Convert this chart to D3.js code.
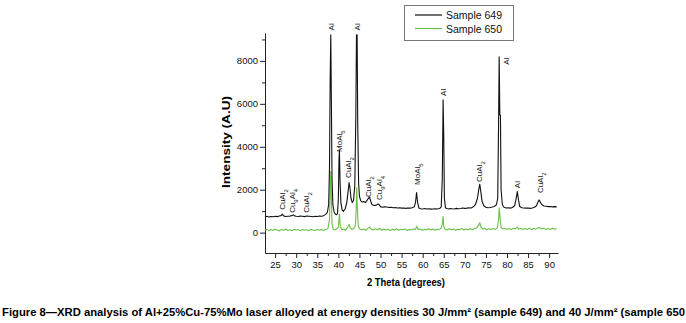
<!DOCTYPE html>
<html>
<head>
<meta charset="utf-8">
<script src="https://cdn.jsdelivr.net/npm/d3@7"></script>
<style>
    body { margin: 0; background: #fff; }
    svg { display: block; font-family: "Liberation Sans", Arial, Helvetica, sans-serif; }
</style>
</head>
<body>
<div id="chart"></div>
<script>
// XRD pattern, Sample 649 (black) and Sample 650 (green), [2theta, intensity]
const sample649 = [
    [22.6,740],[23,760],[23.5,730],[24,750],[24.5,740],[25,760],[25.5,745],[26,770],[26.4,790],[26.7,860],
    [27,780],[27.5,750],[28,760],[28.5,770],[29,790],[29.3,830],[29.6,780],[30,760],[30.5,750],[31,770],
    [31.5,760],[32,745],[32.5,770],[33,760],[33.5,750],[34,740],[34.5,760],[35,750],[35.5,770],[36,760],
    [36.5,790],[37,850],[37.4,950],[37.7,1300],[37.9,3000],[38.05,7000],[38.2,9217],[38.35,6000],[38.5,2500],[38.7,1300],
    [39,950],[39.3,860],[39.6,830],[39.8,900],[40,1600],[40.15,3400],[40.25,3850],[40.4,2400],[40.6,1400],[40.9,1050],
    [41.2,990],[41.6,1100],[42,1400],[42.3,1900],[42.55,2330],[42.75,2100],[43,1600],[43.3,1400],[43.6,1500],[43.9,2200],
    [44.15,5500],[44.3,9217],[44.45,9217],[44.6,5000],[44.8,2300],[45,1700],[45.3,1480],[45.7,1420],[46,1450],[46.4,1400],
    [46.8,1500],[47.2,1620],[47.4,1660],[47.7,1450],[48,1300],[48.5,1260],[49,1280],[49.4,1330],[49.7,1300],[50,1210],
    [50.5,1180],[51,1200],[51.5,1190],[52,1170],[52.5,1180],[53,1160],[53.5,1170],[54,1150],[54.5,1160],[55,1140],
    [55.5,1150],[56,1130],[56.5,1150],[57,1140],[57.5,1160],[58,1200],[58.3,1400],[58.55,1865],[58.8,1400],[59.1,1150],
    [59.5,1110],[60,1100],[60.5,1120],[61,1100],[61.5,1110],[62,1095],[62.5,1100],[63,1110],[63.5,1100],[64,1120],
    [64.4,1200],[64.65,2500],[64.85,6190],[65,4500],[65.15,1600],[65.4,1150],[65.8,1120],[66.2,1100],[66.6,1120],[67,1110],
    [67.5,1100],[68,1130],[68.5,1110],[69,1120],[69.5,1150],[70,1130],[70.5,1140],[71,1160],[71.5,1150],[72,1200],
    [72.5,1300],[73,1600],[73.3,2000],[73.55,2255],[73.8,1900],[74.1,1450],[74.5,1250],[75,1180],[75.5,1160],[76,1170],
    [76.5,1190],[77,1220],[77.5,1300],[77.8,1600],[78,5000],[78.15,8190],[78.3,5480],[78.45,5480],[78.6,2000],[78.9,1300],
    [79.3,1180],[79.8,1150],[80.3,1160],[80.8,1140],[81.3,1170],[81.8,1250],[82.1,1500],[82.45,1910],[82.75,1500],[83,1220],
    [83.5,1160],[84,1150],[84.5,1140],[85,1150],[85.5,1130],[86,1150],[86.5,1180],[87,1250],[87.3,1400],[87.6,1525],
    [87.9,1420],[88.3,1300],[88.8,1240],[89.3,1230],[89.8,1210],[90.3,1220],[90.8,1200],[91.3,1210],[91.8,1200]
];

const sample650 = [
    [22.6,110],[23,150],[23.5,90],[24,140],[24.5,100],[25,160],[25.5,120],[26,80],[26.5,150],[27,110],
    [27.5,170],[28,100],[28.5,130],[29,90],[29.5,160],[30,120],[30.5,140],[31,80],[31.5,150],[32,110],
    [32.5,130],[33,90],[33.5,160],[34,120],[34.5,100],[35,150],[35.5,110],[36,140],[36.5,100],[37,160],
    [37.5,180],[37.9,600],[38.05,1800],[38.2,2840],[38.35,1500],[38.5,400],[38.8,150],[39.2,120],[39.6,170],[40,250],
    [40.25,860],[40.45,300],[40.8,130],[41.2,170],[41.6,110],[42,180],[42.3,280],[42.55,380],[42.8,220],[43.2,150],
    [43.6,180],[44,300],[44.2,900],[44.35,2100],[44.5,1200],[44.7,350],[45,180],[45.5,120],[46,170],[46.5,110],
    [47,200],[47.4,260],[47.8,150],[48.3,120],[48.8,180],[49.3,130],[49.8,200],[50.3,110],[50.8,170],[51.3,120],
    [51.8,160],[52.3,100],[52.8,150],[53.3,120],[53.8,180],[54.3,110],[54.8,160],[55.3,130],[55.8,170],[56.3,100],
    [56.8,150],[57.3,120],[57.8,170],[58.3,150],[58.6,300],[58.9,140],[59.4,170],[59.9,110],[60.4,160],[60.9,130],
    [61.4,180],[61.9,120],[62.4,170],[62.9,110],[63.4,160],[63.9,140],[64.4,200],[64.65,400],[64.85,750],[65,300],
    [65.3,160],[65.8,120],[66.3,180],[66.8,130],[67.3,170],[67.8,110],[68.3,160],[68.8,140],[69.3,190],[69.8,120],
    [70.3,170],[70.8,130],[71.3,180],[71.8,140],[72.3,190],[72.8,220],[73.3,350],[73.55,470],[73.8,280],[74.2,160],
    [74.7,200],[75.2,130],[75.7,180],[76.2,140],[76.7,190],[77.2,150],[77.7,220],[78,600],[78.15,1140],[78.35,700],
    [78.6,250],[79,170],[79.5,200],[80,140],[80.5,190],[81,150],[81.5,200],[82,170],[82.45,260],[82.8,160],
    [83.3,200],[83.8,140],[84.3,190],[84.8,150],[85.3,200],[85.8,140],[86.3,190],[86.8,160],[87.3,220],[87.8,230],
    [88.3,170],[88.8,200],[89.3,140],[89.8,190],[90.3,150],[90.8,200],[91.3,160],[91.8,190]
];

// phase labels: [text, 2theta, intensity at label foot]; "_n" means subscript
const peakLabels = [
    ["CuAl_2", 26.6, 1060], ["Cu_9Al_4", 29.1, 920], ["CuAl_2", 32.3, 920],
    ["Al", 38.2, 9420], ["MoAl_5", 40.3, 3760], ["CuAl_2", 42.35, 2550],
    ["Al", 44.4, 9420], ["CuAl_2", 47.1, 1660], ["Cu_9Al_4", 49.7, 1520],
    ["MoAl_5", 58.6, 2220], ["Al", 64.9, 6370], ["CuAl_2", 73.4, 2360],
    ["Al", 79.9, 7820], ["Al", 82.5, 2070], ["CuAl_2", 87.9, 1840]
];

const seriesNames = ["Sample 649", "Sample 650"];
const seriesColors = ["#111111", "#6cbf4a"];
const xTicks = [25, 30, 35, 40, 45, 50, 55, 60, 65, 70, 75, 80, 85, 90];
const yTicks = [0, 2000, 4000, 6000, 8000];

const caption = "Figure 8\u2014XRD analysis of Al+25%Cu-75%Mo laser alloyed at energy densities 30 J/mm\u00B2 (sample 649) and 40 J/mm\u00B2 (sample 650";

class XrdVis {
    constructor(parentElement) {
        this.parentElement = parentElement;
        this.initVis();
    }

    initVis() {
        let vis = this;

        vis.width = 686;
        vis.height = 323;

        vis.svg = d3.select("#" + vis.parentElement).append("svg")
            .attr("width", vis.width)
            .attr("height", vis.height);

        // plot area in page pixels
        vis.x = d3.scaleLinear().domain([22.6, 92.1]).range([265, 558]);
        vis.y = d3.scaleLinear().domain([-950, 9300]).range([253, 33]);

        vis.drawAxes();
        vis.drawLines();
        vis.drawLabels();
        vis.drawLegend();
    }

    drawAxes() {
        let vis = this;

        // x axis, major + minor ticks
        let xMinor = d3.range(22.5, 92.1, 2.5).filter(d => d >= 22.6 && d % 5 !== 0);
        vis.svg.append("g")
            .attr("transform", "translate(0,253)")
            .call(d3.axisBottom(vis.x).tickValues(xMinor).tickSize(3).tickFormat(""))
            .call(g => g.select(".domain").remove());

        let xAxis = vis.svg.append("g")
            .attr("transform", "translate(0,253)")
            .call(d3.axisBottom(vis.x).tickValues(xTicks).tickSize(5).tickSizeOuter(0).tickPadding(3));
        xAxis.selectAll("text").style("font-size", "9.5px").attr("fill", "#111");

        // y axis
        let yMinor = [1000, 3000, 5000, 7000, 9000];
        vis.svg.append("g")
            .attr("transform", "translate(265,0)")
            .call(d3.axisLeft(vis.y).tickValues(yMinor).tickSize(3).tickFormat(""))
            .call(g => g.select(".domain").remove());

        let yAxis = vis.svg.append("g")
            .attr("transform", "translate(265,0)")
            .call(d3.axisLeft(vis.y).tickValues(yTicks).tickSize(5).tickSizeOuter(0).tickPadding(2).tickFormat(d3.format("d")));
        yAxis.selectAll("text").style("font-size", "9.5px").attr("fill", "#111");

        vis.svg.selectAll(".domain, .tick line").attr("stroke", "#222");

        // axis titles
        vis.svg.append("text")
            .attr("x", 406)
            .attr("y", 286)
            .attr("text-anchor", "middle")
            .attr("textLength", 78)
            .attr("lengthAdjust", "spacingAndGlyphs")
            .style("font-size", "11px")
            .style("font-weight", "bold")
            .text("2 Theta (degrees)");

        vis.svg.append("text")
            .attr("transform", "translate(230,142) rotate(-90)")
            .attr("text-anchor", "middle")
            .attr("textLength", 92)
            .attr("lengthAdjust", "spacingAndGlyphs")
            .style("font-size", "11.5px")
            .style("font-weight", "bold")
            .text("Intensity (A.U)");

        vis.svg.append("text")
            .attr("x", 2)
            .attr("y", 316)
            .attr("textLength", 683)
            .attr("lengthAdjust", "spacingAndGlyphs")
            .style("font-size", "10.5px")
            .style("font-weight", "bold")
            .text(caption);
    }

    drawLines() {
        let vis = this;

        let line = d3.line()
            .x(d => vis.x(d[0]))
            .y(d => vis.y(d[1]));

        // green drawn first, black on top
        [sample650, sample649].forEach((series, i) => {
            vis.svg.append("path")
                .datum(series)
                .attr("fill", "none")
                .attr("stroke", seriesColors[1 - i])
                .attr("stroke-width", 1.1)
                .attr("stroke-linejoin", "round")
                .attr("d", line);
        });
    }

    drawLabels() {
        let vis = this;

        let labels = vis.svg.selectAll(".peak-label")
            .data(peakLabels)
            .enter().append("text")
            .attr("class", "peak-label")
            .attr("transform", d => `translate(${vis.x(d[1])},${vis.y(d[2])}) rotate(-90)`)
            .attr("dy", "0.35em")
            .style("font-size", "8px")
            .attr("fill", "#111");

        labels.each(function(d) {
            let el = d3.select(this);
            let parts = d[0].split(/_(\d+)/);
            parts.forEach((p, j) => {
                if (p === "") return;
                if (j % 2 === 1) {
                    el.append("tspan").attr("baseline-shift", "sub").style("font-size", "6px").text(p);
                } else {
                    el.append("tspan").text(p);
                }
            });
        });
    }

    drawLegend() {
        let vis = this;

        let legend = vis.svg.append("g");
        legend.append("rect")
            .attr("x", 404.5).attr("y", 5.5)
            .attr("width", 109).attr("height", 35)
            .attr("fill", "#fff")
            .attr("stroke", "#777")
            .attr("stroke-width", 1);

        seriesNames.forEach((name, i) => {
            let cy = 15 + i * 13.5;
            legend.append("line")
                .attr("x1", 415).attr("x2", 442)
                .attr("y1", cy).attr("y2", cy)
                .attr("stroke", seriesColors[i])
                .attr("stroke-width", 1.2);
            legend.append("text")
                .attr("x", 446).attr("y", cy + 4)
                .style("font-size", "10.5px")
                .attr("fill", "#111")
                .text(name);
        });
    }
}

new XrdVis("chart");
</script>
</body>
</html>
